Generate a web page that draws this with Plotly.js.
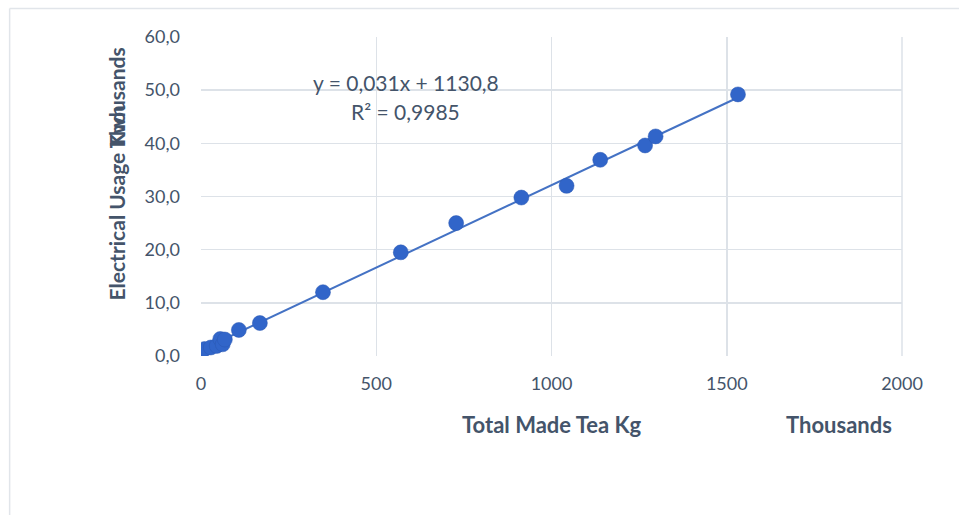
<!DOCTYPE html>
<html>
<head>
<meta charset="utf-8">
<script src="https://cdn.plot.ly/plotly-3.0.1.min.js"></script>
<style>html,body{margin:0;padding:0;background:#fff;}#chart{width:959px;height:515px;}</style>
</head>
<body>
<div id="chart"></div>
<script>
// Total made tea (thousands kg) and electrical usage (thousands kWh)
const teaKgThousands = [10, 28, 45, 55, 62, 68, 108, 168, 348, 570, 728, 914, 1043, 1139, 1267, 1297, 1532];
const electricityThousands = [1.3, 1.6, 1.9, 3.2, 2.2, 3.1, 4.9, 6.2, 12.0, 19.5, 25.0, 29.8, 32.0, 36.9, 39.6, 41.3, 49.2];
// Linear trendline as reported: y = 0,031x + 1130,8 (raw units)
const trendSlope = 0.031;
const trendInterceptRaw = 1130.8;
const xTickVals = [0, 500, 1000, 1500, 2000];
const yTickVals = [0, 10, 20, 30, 40, 50, 60];

const xMin = Math.min(...teaKgThousands), xMax = Math.max(...teaKgThousands);
const trendX = [xMin, xMax];
const trendY = trendX.map(x => trendSlope * x + trendInterceptRaw / 1000);

const textColor = '#44546A';
const gridColor = '#DDE2E8';
const FONT = 'Lato, "Open Sans", sans-serif';

const traces = [
  {x: trendX, y: trendY, mode: 'lines', type: 'scatter',
   line: {color: '#4472C4', width: 2}, hoverinfo: 'skip', showlegend: false},
  {x: teaKgThousands, y: electricityThousands, mode: 'markers', type: 'scatter',
   marker: {color: '#3165C9', size: 15, line: {color: '#2A58B3', width: 0.5}}, showlegend: false}
];

const layout = {
  width: 959, height: 515,
  margin: {l: 201, r: 57, t: 37, b: 159},
  paper_bgcolor: '#fff', plot_bgcolor: '#fff',
  separators: ', ',
  font: {family: FONT, color: textColor},
  xaxis: {range: [0, 2000], tickvals: xTickVals, showgrid: true, gridcolor: gridColor, gridwidth: 1.5,
          zeroline: false, showline: false, ticks: '', tickfont: {size: 18, color: textColor},
          ticklabelstandoff: 15, fixedrange: true},
  yaxis: {range: [0, 60], tickvals: yTickVals, tickformat: '.1f', showgrid: true, gridcolor: gridColor, gridwidth: 1.5,
          zeroline: false, showline: false, ticks: '', tickfont: {size: 18, color: textColor},
          ticklabelstandoff: 20, fixedrange: true},
  shapes: [
    {type: 'line', xref: 'paper', yref: 'paper', x0: 1, x1: 1, y0: 0, y1: 1, line: {color: gridColor, width: 1.5}},
    {type: 'line', xref: 'paper', yref: 'paper', x0: -0.273, x1: 1.1, y0: 1.089, y1: 1.089, line: {color: '#E1E5EA', width: 1.5}},
    {type: 'line', xref: 'paper', yref: 'paper', x0: -0.273, x1: -0.273, y0: 1.089, y1: -0.52, line: {color: '#E1E5EA', width: 1.5}}
  ],
  annotations: [
    {text: '<b>Electrical Usage Kwh</b>', textangle: -90, xref: 'paper', yref: 'paper', x: -0.12, y: 0.169,
     xanchor: 'center', yanchor: 'bottom', showarrow: false, font: {size: 21, color: textColor}},
    {text: '<b>Thousands</b>', textangle: -90, xref: 'paper', yref: 'paper', x: -0.12, y: 0.975,
     xanchor: 'center', yanchor: 'top', showarrow: false, font: {size: 21, color: textColor}},
    {text: '<b>Total Made Tea Kg</b>', xref: 'paper', yref: 'paper', x: 0.5, y: -0.216,
     xanchor: 'center', yanchor: 'middle', showarrow: false, font: {size: 22, color: textColor}},
    {text: '<b>Thousands</b>', xref: 'paper', yref: 'paper', x: 0.910, y: -0.216,
     xanchor: 'center', yanchor: 'middle', showarrow: false, font: {size: 22, color: textColor}},
    {text: 'y = 0,031x + 1130,8', xref: 'paper', yref: 'paper', x: 0.292, y: 0.856,
     xanchor: 'center', yanchor: 'middle', showarrow: false, font: {size: 21, color: textColor}},
    {text: 'R² = 0,9985', xref: 'paper', yref: 'paper', x: 0.292, y: 0.765,
     xanchor: 'center', yanchor: 'middle', showarrow: false, font: {size: 21, color: textColor}}
  ]
};

Plotly.newPlot('chart', traces, layout, {displayModeBar: false, staticPlot: true});
</script>
</body>
</html>
